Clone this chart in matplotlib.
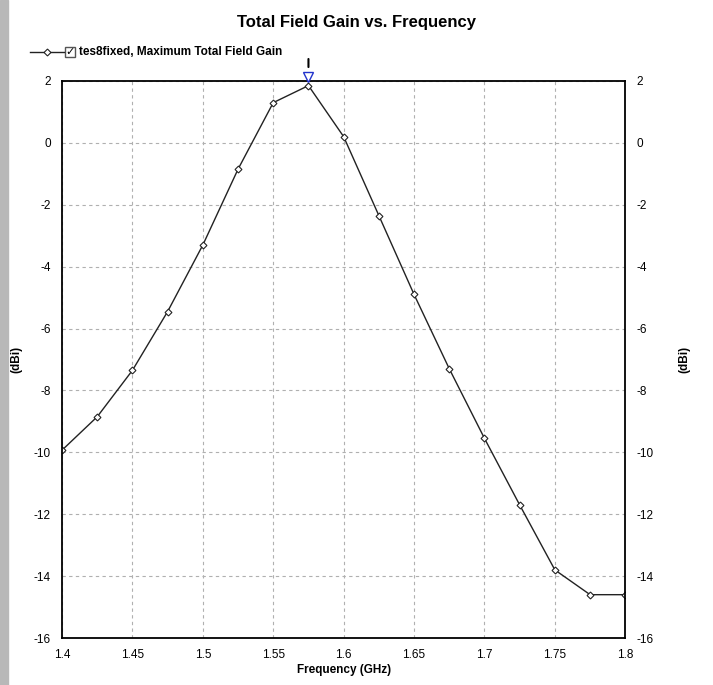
import matplotlib
matplotlib.use('Agg')
import matplotlib.pyplot as plt
from matplotlib.lines import Line2D
from matplotlib.patches import Rectangle

freq = [1.4, 1.425, 1.45, 1.475, 1.5, 1.525, 1.55, 1.575, 1.6, 1.625,
        1.65, 1.675, 1.7, 1.725, 1.75, 1.775, 1.8]
gain = [-9.93, -8.85, -7.35, -5.45, -3.3, -0.85, 1.3, 1.85, 0.2, -2.35,
        -4.9, -7.3, -9.55, -11.7, -13.8, -14.6, -14.6]
xticks = [1.4, 1.45, 1.5, 1.55, 1.6, 1.65, 1.7, 1.75, 1.8]
xlabels = ['1.4', '1.45', '1.5', '1.55', '1.6', '1.65', '1.7', '1.75', '1.8']
yticks = [-16, -14, -12, -10, -8, -6, -4, -2, 0, 2]

plt.rcParams['font.family'] = ['Liberation Sans', 'DejaVu Sans']
plt.rcParams['axes.unicode_minus'] = False

fig = plt.figure(figsize=(7.13, 6.85), dpi=100)
ax = fig.add_axes([0.087, 0.0686, 0.79, 0.8132])

# grey strip on the left edge of the screenshot
fig.add_artist(Rectangle((0, 0), 0.011, 1, transform=fig.transFigure,
                         color='#b8b8b8', zorder=0))

ax.plot(freq, gain, color='#222222', linewidth=1.0, marker='D', markersize=3.5,
        markerfacecolor='white', markeredgecolor='#222222', markeredgewidth=0.8)

ax.set_xlim(1.4, 1.8)
ax.set_ylim(-16, 2)
ax.set_xticks(xticks)
ax.set_xticklabels(xlabels)
ax.set_yticks(yticks)
ax.grid(True, linestyle=(0, (3, 3)), color='#b0b0b0', linewidth=0.8)
for s in ax.spines.values():
    s.set_linewidth(1.3)

ax.set_xlabel('Frequency (GHz)', fontsize=8.5, fontweight='bold', labelpad=2)
ax2 = ax.twinx()
ax2.set_ylim(-16, 2)
ax2.set_yticks([])
for s in ax2.spines.values():
    s.set_visible(False)
ax2.set_ylabel('(dBi)', fontsize=8.5, fontweight='bold', labelpad=38)

# twinx resets the right labels of ax, so set them afterwards
ax.tick_params(length=0, labelsize=8.5, pad=8)
ax.tick_params(axis='y', left=True, right=True, labelleft=True,
               labelright=True, length=0)
ax.set_ylabel('(dBi)', fontsize=8.5, fontweight='bold')
ax.yaxis.set_label_coords(-0.07, 0.5)

fig.text(0.5, 0.967, 'Total Field Gain vs. Frequency', ha='center', va='center',
         fontsize=12, fontweight='bold')

# peak marker
i_max = gain.index(max(gain))
ax.plot([freq[i_max]], [2.12], marker='v', markersize=7, markerfacecolor='white',
        markeredgecolor='#2233cc', markeredgewidth=1.0, clip_on=False, zorder=5)
ax.annotate('', xy=(freq[i_max], 2.36), xytext=(freq[i_max], 2.8),
            arrowprops=dict(arrowstyle='-', color='black', linewidth=1.5),
            annotation_clip=False)

# legend
ly = 1 - 52 / 685
fig.add_artist(Line2D([30 / 713, 64 / 713], [ly, ly], transform=fig.transFigure,
                      color='#222222', linewidth=1.0))
fig.add_artist(Line2D([47 / 713], [ly], transform=fig.transFigure, marker='D',
                      markersize=3.5, markerfacecolor='white',
                      markeredgecolor='#222222', markeredgewidth=0.8))
fig.add_artist(Rectangle((65 / 713, ly - 5 / 685), 10 / 713, 10 / 685,
                         transform=fig.transFigure, fill=False,
                         edgecolor='#555555', linewidth=1.0))
fig.text(70 / 713, ly, '\u2713', ha='center', va='center', fontsize=8,
         fontweight='bold', family=['DejaVu Sans'])
fig.text(79 / 713, ly, 'tes8fixed, Maximum Total Field Gain', ha='left',
         va='center', fontsize=8.5, fontweight='bold')

fig.savefig('out.png', dpi=100)
